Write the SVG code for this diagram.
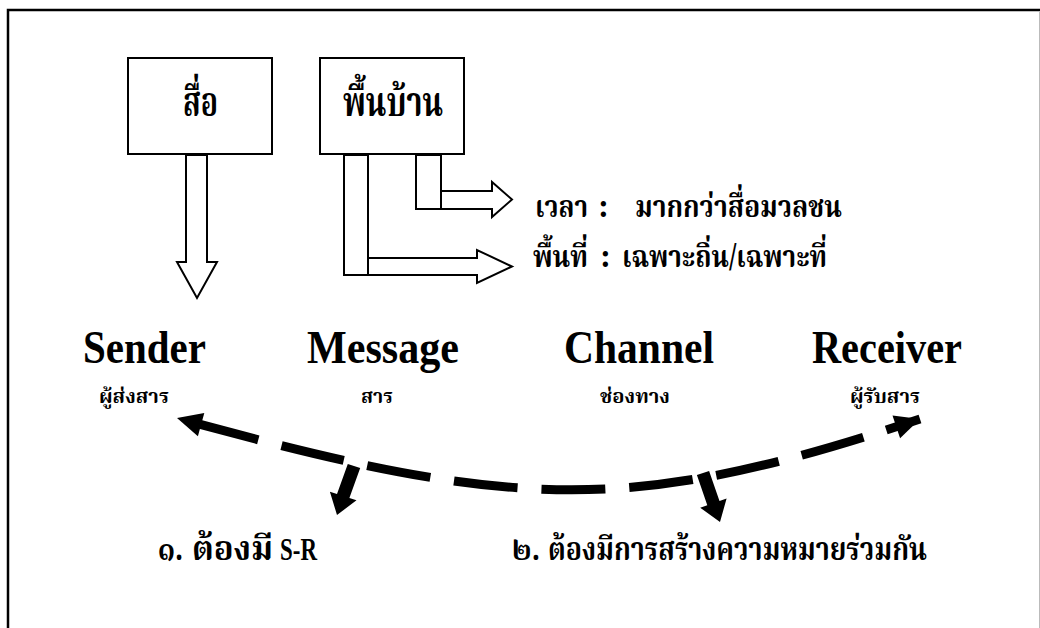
<svg xmlns="http://www.w3.org/2000/svg" width="1040" height="628" viewBox="0 0 1040 628">
<defs>
<style>
.box{fill:#fff;stroke:#000;stroke-width:2}
.blk{fill:#fff;stroke:#000;stroke-width:2;stroke-linejoin:miter}
.th{font-family:"Noto Serif Thai","Noto Sans Thai","Liberation Serif","DejaVu Serif",serif;font-weight:bold;fill:#000}
.en{font-family:"Liberation Serif","Times New Roman",serif;font-weight:bold;fill:#000}
.dash{fill:none;stroke:#000;stroke-width:9;stroke-dasharray:64 24;stroke-dashoffset:68}
.solid{fill:#000;stroke:none}
</style>
</defs>
<rect x="0" y="0" width="1040" height="628" fill="#fff"/>
<rect x="8" y="10" width="1060" height="660" fill="none" stroke="#000" stroke-width="2.5"/>
<line x1="1039.5" y1="12" x2="1039.5" y2="628" stroke="#bbb" stroke-width="1"/>

<g id="node-suea">
<rect class="box" x="128" y="58" width="144" height="96"/>
<text class="th" x="183" y="116" font-size="40" textLength="35" lengthAdjust="spacingAndGlyphs">สื่อ</text>
</g>
<g id="node-phuenban">
<rect class="box" x="320" y="58" width="144" height="96"/>
<text class="th" x="343" y="116" font-size="40" textLength="100" lengthAdjust="spacingAndGlyphs">พื้นบ้าน</text>
</g>

<g id="connectors">
<polygon class="blk" points="186,155 207,155 207,262 217,262 197,298 177,262 186,262"/>
<rect class="blk" x="344" y="155" width="24" height="120"/>
<polygon class="blk" points="368,258 477,258 477,250 512,266.5 477,283 477,275 368,275"/>
<rect class="blk" x="416" y="155" width="25" height="54"/>
<polygon class="blk" points="441,191 492,191 492,182 512,199.5 492,217 492,209 441,209"/>
<path class="dash" d="M177,418 C520,513 634,514 920,419"/>
<polygon class="solid" points="177,418 204.3,413.1 197.9,436.3"/>
<polygon class="solid" points="920,419 892.5,415.5 900.1,438.3"/>
<polygon class="solid" points="360.2,468 347.8,464 337,494 329.9,491.7 337,515 356.5,500.3 349.4,498"/>
<polygon class="solid" points="709.1,470.9 696.9,475.1 707.3,505.2 700.2,507.7 720,522 726.6,498.5 719.5,501"/>
</g>

<g id="label-time">
<text class="th" y="217" font-size="31"><tspan x="535" textLength="53" lengthAdjust="spacingAndGlyphs">เวลา</tspan> <tspan class="en" x="598" font-size="34" textLength="11" lengthAdjust="spacingAndGlyphs">:</tspan> <tspan x="635" textLength="207" lengthAdjust="spacingAndGlyphs">มากกว่าสื่อมวลชน</tspan></text>
</g>
<g id="label-area">
<text class="th" y="267" font-size="31"><tspan x="533" textLength="55" lengthAdjust="spacingAndGlyphs">พื้นที่</tspan> <tspan class="en" x="600" font-size="34" textLength="11" lengthAdjust="spacingAndGlyphs">:</tspan> <tspan x="622" textLength="205" lengthAdjust="spacingAndGlyphs">เฉพาะถิ่น/เฉพาะที่</tspan></text>
</g>

<g id="node-sender">
<text class="en" x="83" y="363" font-size="47" textLength="123" lengthAdjust="spacingAndGlyphs">Sender</text>
<text class="th" x="99" y="403" font-size="20" textLength="70" lengthAdjust="spacingAndGlyphs">ผู้ส่งสาร</text>
</g>
<g id="node-message">
<text class="en" x="307" y="363" font-size="47" textLength="152" lengthAdjust="spacingAndGlyphs">Message</text>
<text class="th" x="361" y="403" font-size="20" textLength="32" lengthAdjust="spacingAndGlyphs">สาร</text>
</g>
<g id="node-channel">
<text class="en" x="564" y="363" font-size="47" textLength="150" lengthAdjust="spacingAndGlyphs">Channel</text>
<text class="th" x="600" y="403" font-size="20" textLength="70" lengthAdjust="spacingAndGlyphs">ช่องทาง</text>
</g>
<g id="node-receiver">
<text class="en" x="812" y="363" font-size="47" textLength="150" lengthAdjust="spacingAndGlyphs">Receiver</text>
<text class="th" x="850" y="403" font-size="20" textLength="70" lengthAdjust="spacingAndGlyphs">ผู้รับสาร</text>
</g>

<g id="label-1">
<text class="th" y="560" font-size="34"><tspan x="158" textLength="25" lengthAdjust="spacingAndGlyphs">๑.</tspan> <tspan x="192" textLength="81" lengthAdjust="spacingAndGlyphs">ต้องมี</tspan> <tspan class="en" x="280" font-size="31" textLength="37" lengthAdjust="spacingAndGlyphs">S-R</tspan></text>
</g>
<g id="label-2">
<text class="th" y="560" font-size="32"><tspan x="512" textLength="28" lengthAdjust="spacingAndGlyphs">๒.</tspan> <tspan x="548" textLength="379" lengthAdjust="spacingAndGlyphs">ต้องมีการสร้างความหมายร่วมกัน</tspan></text>
</g>
</svg>
